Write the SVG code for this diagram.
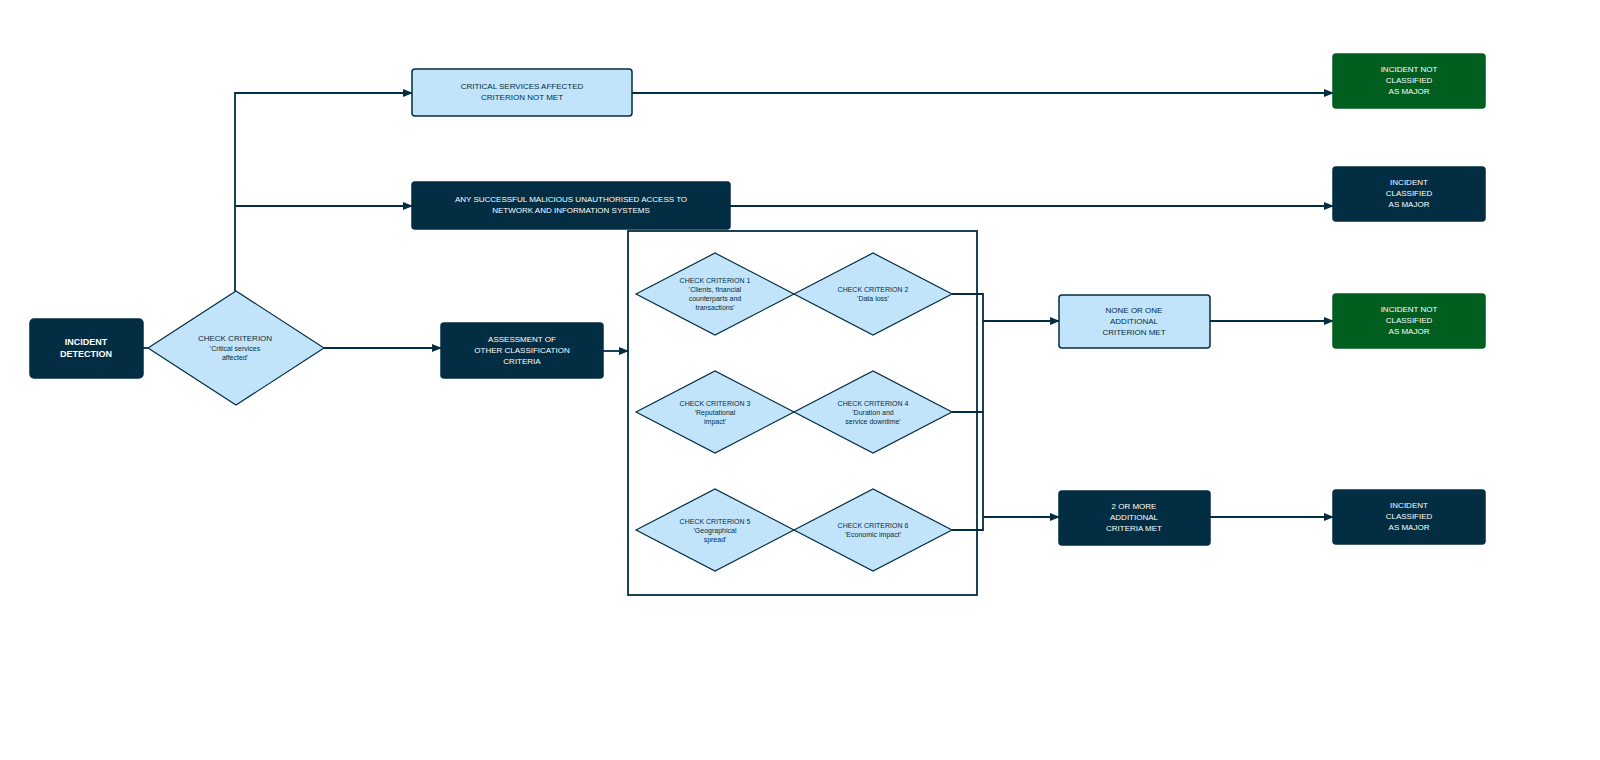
<svg xmlns="http://www.w3.org/2000/svg" width="1600" height="760" viewBox="0 0 1600 760">
<defs>
<marker id="ah" markerWidth="10" markerHeight="8" refX="9" refY="4" orient="auto" markerUnits="userSpaceOnUse"><path d="M0,0 L10,4 L0,8 Z" fill="#032d42"/></marker>
<style>
.dk{fill:#032d42;stroke:#032d42;stroke-width:1.5}
.lt{fill:#c2e4fb;stroke:#032d42;stroke-width:1.5}
.gr{fill:#005e1f;stroke:#005e1f;stroke-width:1.5}
.dm{fill:#c2e4fb;stroke:#032d42;stroke-width:1.2}
.c{fill:none;stroke:#032d42;stroke-width:1.8}
.a{marker-end:url(#ah)}
text{font-family:"Liberation Sans",Arial,sans-serif;font-size:8px;text-anchor:middle}
.w{fill:#ffffff}
.b{fill:#032d42}
.s{font-size:7px}
</style>
</defs>
<rect width="1600" height="760" fill="#ffffff"/>
<g id="connectors">
<path class="c" d="M143,348 L148,348"/>
<path class="c" d="M235,291 L235,93 L412,93" marker-end="url(#ah)"/>
<path class="c a" d="M235,206 L412,206"/>
<path class="c a" d="M632,93 L1333,93"/>
<path class="c a" d="M730,206 L1333,206"/>
<path class="c a" d="M324,348 L441,348"/>
<path class="c a" d="M603,351 L628,351"/>
<path class="c" d="M952,294 L983,294 L983,530 L952,530 M952,412 L983,412"/>
<path class="c a" d="M983,321 L1059,321"/>
<path class="c a" d="M983,517 L1059,517"/>
<path class="c a" d="M1210,321 L1333,321"/>
<path class="c a" d="M1210,517 L1333,517"/>
</g>
<g id="incident-detection"><rect class="dk" x="30" y="319" width="113" height="59" rx="4"/><text class="w" font-weight="bold" font-size="9" x="86" y="345" style="font-size:9px">INCIDENT</text><text class="w" font-weight="bold" x="86" y="357" style="font-size:9px">DETECTION</text></g>
<g id="check-critical"><path class="dm" d="M148,348 L236,291 L324,348 L236,405 Z"/><text class="b" x="235" y="341">CHECK CRITERION</text><text class="b s" x="235" y="351">'Critical services</text><text class="b s" x="235" y="360">affected'</text></g>
<g id="critical-not-met"><rect class="lt" x="412" y="69" width="220" height="47" rx="3"/><text class="b" x="522" y="89">CRITICAL SERVICES AFFECTED</text><text class="b" x="522" y="100">CRITERION NOT MET</text></g>
<g id="malicious-access"><rect class="dk" x="412" y="182" width="318" height="47" rx="3"/><text class="w" x="571" y="202">ANY SUCCESSFUL MALICIOUS UNAUTHORISED ACCESS TO</text><text class="w" x="571" y="213">NETWORK AND INFORMATION SYSTEMS</text></g>
<g id="assessment"><rect class="dk" x="441" y="323" width="162" height="55" rx="3"/><text class="w" x="522" y="342">ASSESSMENT OF</text><text class="w" x="522" y="353">OTHER CLASSIFICATION</text><text class="w" x="522" y="364">CRITERIA</text></g>
<g id="criteria-box"><rect x="628" y="231" width="349" height="364" fill="none" stroke="#032d42" stroke-width="1.8"/></g>
<g id="crit1"><path class="dm" d="M636,294 L715,253 L794,294 L715,335 Z"/><text class="b s" x="715" y="283">CHECK CRITERION 1</text><text class="b s" x="715" y="292">'Clients, financial</text><text class="b s" x="715" y="301">counterparts and</text><text class="b s" x="715" y="310">transactions'</text></g>
<g id="crit2"><path class="dm" d="M794,294 L873,253 L952,294 L873,335 Z"/><text class="b s" x="873" y="292">CHECK CRITERION 2</text><text class="b s" x="873" y="301">'Data loss'</text></g>
<g id="crit3"><path class="dm" d="M636,412 L715,371 L794,412 L715,453 Z"/><text class="b s" x="715" y="406">CHECK CRITERION 3</text><text class="b s" x="715" y="415">'Reputational</text><text class="b s" x="715" y="424">impact'</text></g>
<g id="crit4"><path class="dm" d="M794,412 L873,371 L952,412 L873,453 Z"/><text class="b s" x="873" y="406">CHECK CRITERION 4</text><text class="b s" x="873" y="415">'Duration and</text><text class="b s" x="873" y="424">service downtime'</text></g>
<g id="crit5"><path class="dm" d="M636,530 L715,489 L794,530 L715,571 Z"/><text class="b s" x="715" y="524">CHECK CRITERION 5</text><text class="b s" x="715" y="533">'Geographical</text><text class="b s" x="715" y="542">spread'</text></g>
<g id="crit6"><path class="dm" d="M794,530 L873,489 L952,530 L873,571 Z"/><text class="b s" x="873" y="528">CHECK CRITERION 6</text><text class="b s" x="873" y="537">'Economic impact'</text></g>
<g id="none-or-one"><rect class="lt" x="1059" y="295" width="151" height="53" rx="3"/><text class="b" x="1134" y="313">NONE OR ONE</text><text class="b" x="1134" y="324">ADDITIONAL</text><text class="b" x="1134" y="335">CRITERION MET</text></g>
<g id="two-or-more"><rect class="dk" x="1059" y="491" width="151" height="54" rx="3"/><text class="w" x="1134" y="509">2 OR MORE</text><text class="w" x="1134" y="520">ADDITIONAL</text><text class="w" x="1134" y="531">CRITERIA MET</text></g>
<g id="out1"><rect class="gr" x="1333" y="54" width="152" height="54" rx="3"/><text class="w" x="1409" y="72">INCIDENT NOT</text><text class="w" x="1409" y="83">CLASSIFIED</text><text class="w" x="1409" y="94">AS MAJOR</text></g>
<g id="out2"><rect class="dk" x="1333" y="167" width="152" height="54" rx="3"/><text class="w" x="1409" y="185">INCIDENT</text><text class="w" x="1409" y="196">CLASSIFIED</text><text class="w" x="1409" y="207">AS MAJOR</text></g>
<g id="out3"><rect class="gr" x="1333" y="294" width="152" height="54" rx="3"/><text class="w" x="1409" y="312">INCIDENT NOT</text><text class="w" x="1409" y="323">CLASSIFIED</text><text class="w" x="1409" y="334">AS MAJOR</text></g>
<g id="out4"><rect class="dk" x="1333" y="490" width="152" height="54" rx="3"/><text class="w" x="1409" y="508">INCIDENT</text><text class="w" x="1409" y="519">CLASSIFIED</text><text class="w" x="1409" y="530">AS MAJOR</text></g>
</svg>
